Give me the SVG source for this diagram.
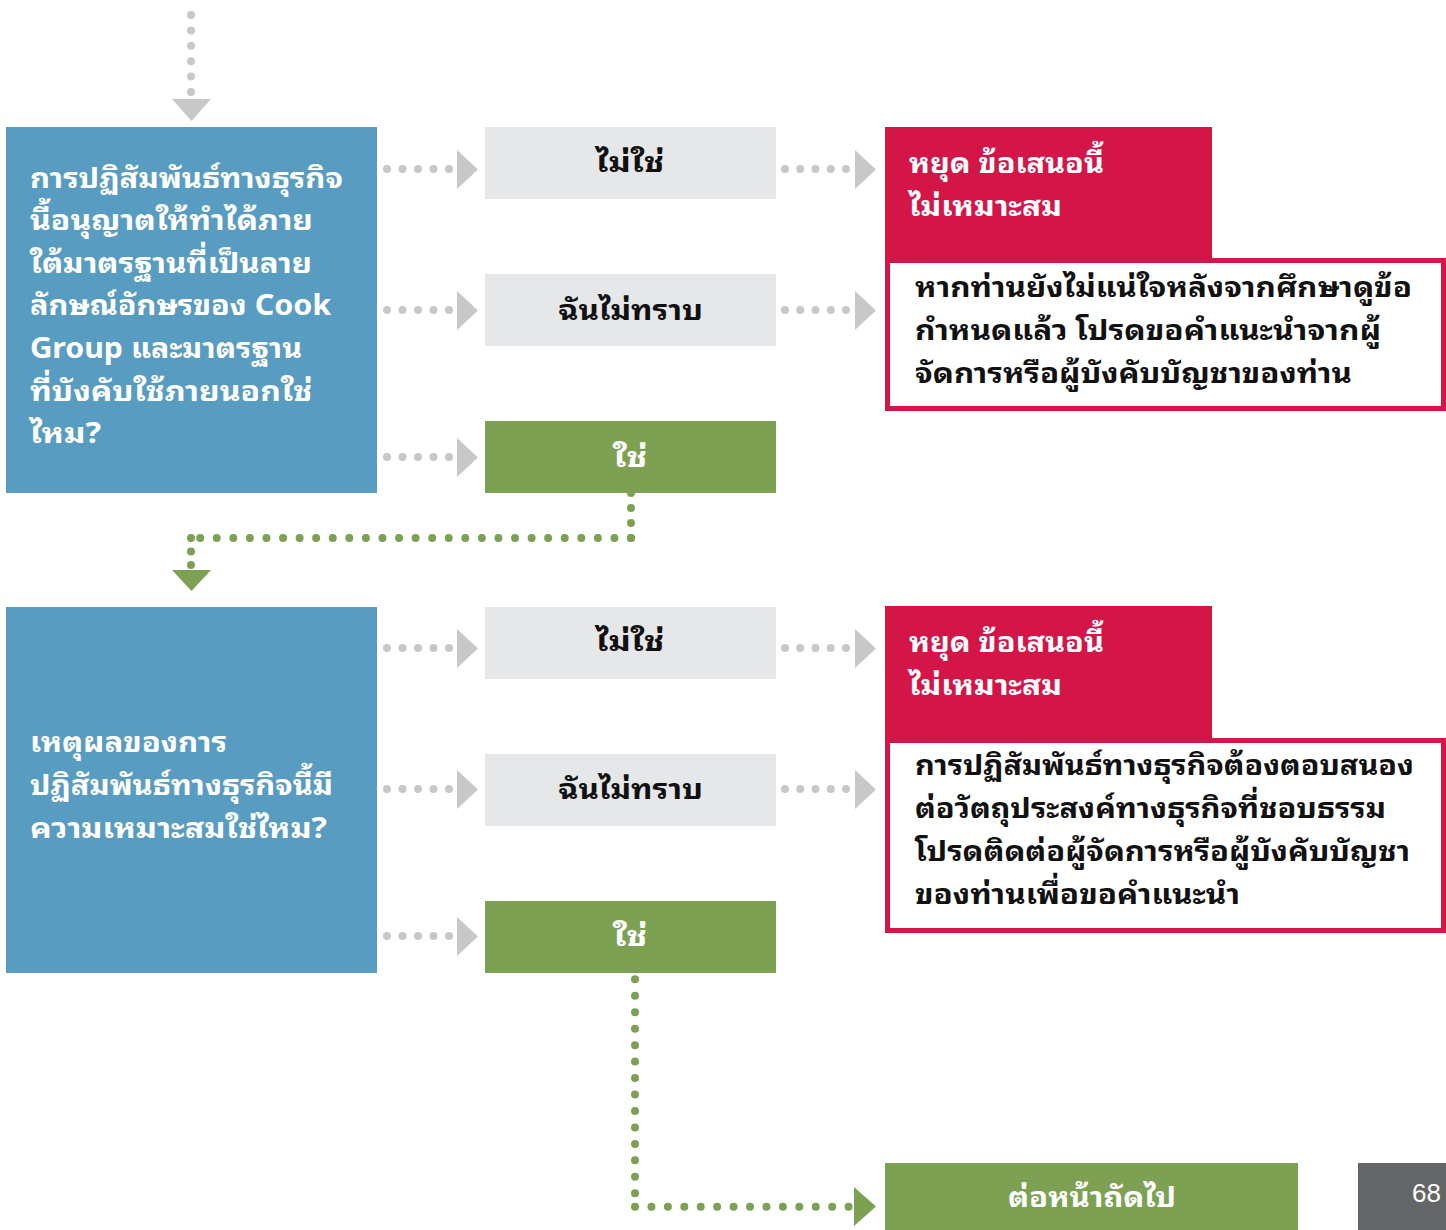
<svg xmlns="http://www.w3.org/2000/svg" width="1446" height="1230" viewBox="0 0 1446 1230">
<style>
.t{font-family:"Noto Sans Thai Looped","Tahoma","Loma","Garuda","Noto Sans Thai","DejaVu Sans",sans-serif;font-weight:bold;font-size:28px}
.w{fill:#ffffff}
.k{fill:#111111}
.c{text-anchor:middle}
.blue{fill:#589CC1}
.gray{fill:#E6E7E8}
.green{fill:#7CA152}
.red{fill:#D31548}
.gd{stroke:#C7C8CA;stroke-width:8;stroke-linecap:round;fill:none}
.gn{stroke:#7CA152;stroke-width:8;stroke-linecap:round;fill:none}
.gt{fill:#C7C8CA}
.nt{fill:#7CA152}
</style>
<rect width="1446" height="1230" fill="#ffffff"/>

<g id="connectors">
  <line class="gd" x1="191" y1="15" x2="191" y2="92.5" stroke-dasharray="0 15.4"/>
  <polygon class="gt" points="172,99 211,99 191.5,121"/>
  <line class="gd" x1="387" y1="169" x2="449.5" y2="169" stroke-dasharray="0 15.5"/>
  <polygon class="gt" points="457,150 457,189 478,169.5"/>
  <line class="gd" x1="387" y1="310" x2="449.5" y2="310" stroke-dasharray="0 15.5"/>
  <polygon class="gt" points="457,291 457,330 478,310.5"/>
  <line class="gd" x1="387" y1="457" x2="449.5" y2="457" stroke-dasharray="0 15.5"/>
  <polygon class="gt" points="457,438 457,477 478,457.5"/>
  <line class="gd" x1="785" y1="169" x2="846.5" y2="169" stroke-dasharray="0 15.25"/>
  <polygon class="gt" points="855,150 855,189 876,169.5"/>
  <line class="gd" x1="785" y1="310" x2="846.5" y2="310" stroke-dasharray="0 15.25"/>
  <polygon class="gt" points="855,291 855,330 876,310.5"/>
  <line class="gn" x1="631" y1="493" x2="631" y2="538.5" stroke-dasharray="0 15"/>
  <line class="gn" x1="631" y1="538" x2="199.8" y2="538" stroke-dasharray="0 16.57"/>
  <line class="gn" x1="191" y1="538" x2="191" y2="565.5" stroke-dasharray="0 13.5"/>
  <polygon class="nt" points="172,570 211,570 191.5,591"/>
  <line class="gd" x1="387" y1="648" x2="449.5" y2="648" stroke-dasharray="0 15.5"/>
  <polygon class="gt" points="457,629 457,668 478,648.5"/>
  <line class="gd" x1="387" y1="789" x2="449.5" y2="789" stroke-dasharray="0 15.5"/>
  <polygon class="gt" points="457,770 457,809 478,789.5"/>
  <line class="gd" x1="387" y1="936" x2="449.5" y2="936" stroke-dasharray="0 15.5"/>
  <polygon class="gt" points="457,917 457,956 478,936.5"/>
  <line class="gd" x1="785" y1="648" x2="846.5" y2="648" stroke-dasharray="0 15.25"/>
  <polygon class="gt" points="855,629 855,668 876,648.5"/>
  <line class="gd" x1="785" y1="789" x2="846.5" y2="789" stroke-dasharray="0 15.25"/>
  <polygon class="gt" points="855,770 855,809 876,789.5"/>
  <line class="gn" x1="635" y1="979.3" x2="635" y2="1193.6" stroke-dasharray="0 16.46"/>
  <line class="gn" x1="635" y1="1206.7" x2="849" y2="1206.7" stroke-dasharray="0 16.43"/>
  <polygon class="nt" points="854,1187 854,1226 876,1206.5"/>
</g>

<g id="q1">
  <rect class="blue" x="6" y="127" width="371" height="366"/>
  <text class="t w" x="30" y="188" textLength="313" lengthAdjust="spacingAndGlyphs">การปฏิสัมพันธ์ทางธุรกิจ</text>
  <text class="t w" x="30" y="230" textLength="283" lengthAdjust="spacingAndGlyphs">นี้อนุญาตให้ทำได้ภาย</text>
  <text class="t w" x="30" y="273" textLength="282" lengthAdjust="spacingAndGlyphs">ใต้มาตรฐานที่เป็นลาย</text>
  <text class="t w" x="30" y="315" textLength="301" lengthAdjust="spacingAndGlyphs">ลักษณ์อักษรของ Cook</text>
  <text class="t w" x="30" y="358" textLength="272" lengthAdjust="spacingAndGlyphs">Group และมาตรฐาน</text>
  <text class="t w" x="30" y="401" textLength="282" lengthAdjust="spacingAndGlyphs">ที่บังคับใช้ภายนอกใช่</text>
  <text class="t w" x="30" y="443" textLength="71" lengthAdjust="spacingAndGlyphs">ไหม?</text>
</g>
<g id="q1-no">
  <rect class="gray" x="485" y="127" width="291" height="72"/>
  <text class="t k" x="596" y="172" textLength="68" lengthAdjust="spacingAndGlyphs">ไม่ใช่</text>
</g>
<g id="q1-unsure">
  <rect class="gray" x="485" y="274" width="291" height="72"/>
  <text class="t k" x="558" y="320" textLength="145" lengthAdjust="spacingAndGlyphs">ฉันไม่ทราบ</text>
</g>
<g id="q1-yes">
  <rect class="green" x="485" y="421" width="291" height="72"/>
  <text class="t w" x="613" y="467" textLength="34" lengthAdjust="spacingAndGlyphs">ใช่</text>
</g>
<g id="q1-stop">
  <rect class="red" x="885" y="127" width="327" height="131"/>
  <text class="t w" x="909" y="173" textLength="195" lengthAdjust="spacingAndGlyphs">หยุด ข้อเสนอนี้</text>
  <text class="t w" x="909" y="216" textLength="153" lengthAdjust="spacingAndGlyphs">ไม่เหมาะสม</text>
</g>
<g id="q1-advice">
  <rect x="887.5" y="260.5" width="556" height="148" fill="#ffffff" stroke="#D31548" stroke-width="5"/>
  <text class="t k" x="915" y="297" textLength="497" lengthAdjust="spacingAndGlyphs">หากท่านยังไม่แน่ใจหลังจากศึกษาดูข้อ</text>
  <text class="t k" x="915" y="340" textLength="466" lengthAdjust="spacingAndGlyphs">กำหนดแล้ว โปรดขอคำแนะนำจากผู้</text>
  <text class="t k" x="915" y="383" textLength="437" lengthAdjust="spacingAndGlyphs">จัดการหรือผู้บังคับบัญชาของท่าน</text>
</g>

<g id="q2">
  <rect class="blue" x="6" y="607" width="371" height="366"/>
  <text class="t w" x="30" y="752" textLength="197" lengthAdjust="spacingAndGlyphs">เหตุผลของการ</text>
  <text class="t w" x="30" y="795" textLength="303" lengthAdjust="spacingAndGlyphs">ปฏิสัมพันธ์ทางธุรกิจนี้มี</text>
  <text class="t w" x="30" y="838" textLength="297" lengthAdjust="spacingAndGlyphs">ความเหมาะสมใช่ไหม?</text>
</g>
<g id="q2-no">
  <rect class="gray" x="485" y="607" width="291" height="72"/>
  <text class="t k" x="596" y="651" textLength="68" lengthAdjust="spacingAndGlyphs">ไม่ใช่</text>
</g>
<g id="q2-unsure">
  <rect class="gray" x="485" y="754" width="291" height="72"/>
  <text class="t k" x="558" y="799" textLength="145" lengthAdjust="spacingAndGlyphs">ฉันไม่ทราบ</text>
</g>
<g id="q2-yes">
  <rect class="green" x="485" y="901" width="291" height="72"/>
  <text class="t w" x="613" y="946" textLength="34" lengthAdjust="spacingAndGlyphs">ใช่</text>
</g>
<g id="q2-stop">
  <rect class="red" x="885" y="606" width="327" height="132"/>
  <text class="t w" x="909" y="652" textLength="195" lengthAdjust="spacingAndGlyphs">หยุด ข้อเสนอนี้</text>
  <text class="t w" x="909" y="695" textLength="153" lengthAdjust="spacingAndGlyphs">ไม่เหมาะสม</text>
</g>
<g id="q2-advice">
  <rect x="887.5" y="740.5" width="556" height="190" fill="#ffffff" stroke="#D31548" stroke-width="5"/>
  <text class="t k" x="915" y="775" textLength="499" lengthAdjust="spacingAndGlyphs">การปฏิสัมพันธ์ทางธุรกิจต้องตอบสนอง</text>
  <text class="t k" x="915" y="818" textLength="471" lengthAdjust="spacingAndGlyphs">ต่อวัตถุประสงค์ทางธุรกิจที่ชอบธรรม</text>
  <text class="t k" x="915" y="861" textLength="495" lengthAdjust="spacingAndGlyphs">โปรดติดต่อผู้จัดการหรือผู้บังคับบัญชา</text>
  <text class="t k" x="915" y="904" textLength="325" lengthAdjust="spacingAndGlyphs">ของท่านเพื่อขอคำแนะนำ</text>
</g>

<g id="next">
  <rect class="green" x="885" y="1163" width="413" height="67"/>
  <text class="t w" x="1008" y="1207" textLength="168" lengthAdjust="spacingAndGlyphs">ต่อหน้าถัดไป</text>
</g>
<g id="page">
  <rect x="1358" y="1163" width="88" height="67" fill="#646567"/>
  <text x="1441" y="1202" fill="#ffffff" font-family="'Liberation Sans','DejaVu Sans',sans-serif" font-size="26" text-anchor="end">68</text>
</g>
</svg>
